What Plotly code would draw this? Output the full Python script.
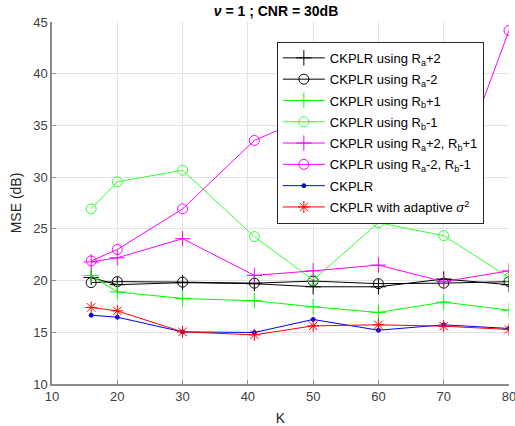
import plotly.graph_objects as go

K = [16, 20, 30, 41, 50, 60, 70, 80]

ra_plus2 = [20.3, 19.6, 19.8, 19.7, 19.4, 19.4, 20.15, 19.6]
ra_minus2 = [19.8, 19.9, 19.85, 19.75, 19.95, 19.7, 19.75, 19.9]
rb_plus1 = [20.5, 18.9, 18.27, 18.05, 17.46, 16.92, 17.92, 17.14]
rb_minus1 = [26.93, 29.55, 30.67, 24.25, 20.05, 25.6, 24.34, 20.3]
ra2_rb1 = [21.8, 22.2, 24.05, 20.5, 20.94, 21.5, 19.9, 20.94]
ram2_rbm1 = [21.9, 23.0, 26.93, 33.55, 36.0, 37.5, 27.1, 44.18]
ckplr = [16.65, 16.46, 15.04, 14.98, 16.24, 15.2, 15.72, 15.37]
ckplr_adapt = [17.4, 17.07, 15.04, 14.75, 15.62, 15.72, 15.59, 15.27]

names = [
    "CKPLR using R<sub>a</sub>+2",
    "CKPLR using R<sub>a</sub>-2",
    "CKPLR using R<sub>b</sub>+1",
    "CKPLR using R<sub>b</sub>-1",
    "CKPLR using R<sub>a</sub>+2, R<sub>b</sub>+1",
    "CKPLR using R<sub>a</sub>-2, R<sub>b</sub>-1",
    "CKPLR",
    "CKPLR with adaptive <i>σ</i><sup>2</sup>",
]
series = [ra_plus2, ra_minus2, rb_plus1, rb_minus1, ra2_rb1, ram2_rbm1, ckplr, ckplr_adapt]
colors = ["#000000", "#000000", "#00ff00", "#33ff33", "#ff00ff", "#ff00ff", "#0000ff", "#ff0000"]
symbols = ["cross-thin", "circle-open", "cross-thin", "circle-open", "cross-thin", "circle-open", "circle", "asterisk-open"]
sizes = [11, 10, 11, 10, 11, 10, 4, 10]

fig = go.Figure()
for i, (n, s, c, sym, sz) in enumerate(zip(names, series, colors, symbols, sizes)):
    fig.add_trace(go.Scatter(
        x=K, y=s, name=n, mode="lines+markers", legendgroup=f"g{i}",
        line=dict(color=c, width=1),
        marker=dict(symbol=sym, size=sz, color=c, line=dict(color=c, width=1)),
        cliponaxis=True,
    ))

font_fam = "Liberation Sans, Arial"
axis_common = dict(
    showgrid=True, gridcolor="#e3e3e3", gridwidth=1,
    showline=True, linecolor="#8c8c8c", linewidth=1.5,
    ticks="inside", ticklen=4, tickcolor="#8c8c8c",
    tickfont=dict(family=font_fam, size=13, color="#404040"),
    zeroline=False, mirror=False, automargin=False,
    ticklabeloverflow="allow",
)
fig.update_xaxes(range=[10, 80], dtick=10, tick0=10,
                 title=dict(text="K", font=dict(family=font_fam, size=14, color="#262626"), standoff=10),
                 **axis_common)
fig.update_yaxes(range=[10, 45], dtick=5, tick0=10,
                 title=dict(text="MSE (dB)", font=dict(family=font_fam, size=14, color="#262626"), standoff=8),
                 **axis_common)

fig.update_layout(
    width=515, height=426,
    margin=dict(l=52, r=6, t=22, b=42, autoexpand=False),
    paper_bgcolor="white", plot_bgcolor="white",
    title=dict(text="<b><i>ν</i> = 1 ; CNR = 30dB</b>", x=0.536, xanchor="center", y=0.975, yanchor="middle",
               font=dict(family=font_fam, size=14, color="#000000")),
    legend=dict(x=0.492, y=0.945, xanchor="left", yanchor="top",
                bgcolor="white", bordercolor="#262626", borderwidth=1,
                font=dict(family=font_fam, size=13, color="#000000"),
                itemwidth=42, tracegroupgap=1.4),
    showlegend=True,
)

fig.write_html("out.html", config={"displayModeBar": False},
               post_script="document.body.style.margin='0';")
